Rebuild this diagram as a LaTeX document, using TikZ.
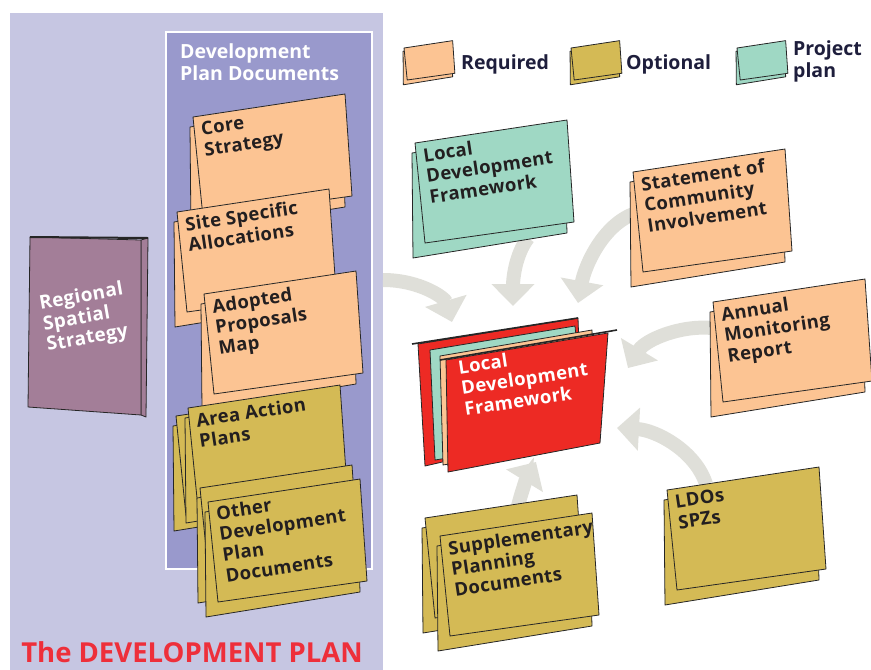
\documentclass[tikz,border=0pt]{standalone}
\usepackage{fontspec}
\setmainfont{Open Sans}
\newfontfamily\cardfont[LetterSpace=2]{Open Sans}
\usetikzlibrary{arrows.meta}
\definecolor{panelblue}{HTML}{C6C6E2}
\definecolor{innerblue}{HTML}{9999CC}
\definecolor{required}{HTML}{FCC493}
\definecolor{optional}{HTML}{D4BA55}
\definecolor{projplan}{HTML}{9FD8C4}
\definecolor{regional}{HTML}{A37E98}
\definecolor{ldfred}{HTML}{ED2A24}
\definecolor{arrowgrey}{HTML}{DFDFD9}
\definecolor{cardink}{HTML}{231F20}
\definecolor{legendink}{HTML}{1E1E3C}
\definecolor{titlered}{HTML}{EE2F3A}
\newcommand{\tentcard}[3][1]{%
\begin{scope}[shift={(#2)},scale=#1]
\filldraw[fill=#3, CardLine] (-3,10) -- (149,-13) -- (152,90) -- (-2,115) -- cycle;
\filldraw[fill=#3, CardLine] (0,0) -- (152,-23) -- (159,79) -- (10,100) -- cycle;
\end{scope}}

\begin{document}
\begin{tikzpicture}[x=1pt,y=-1pt]
\tikzstyle{CardLine}=[draw=black!85, line width=0.8pt, line join=round]
\tikzstyle{CardText}=[anchor=north west, inner sep=0pt, rotate=8.6, align=left,
text=cardink, font=\cardfont\bfseries\fontsize{18.5}{21}\selectfont]
\tikzstyle{LegendText}=[inner sep=0pt, align=left, text=legendink,
font=\bfseries\fontsize{19.5}{22}\selectfont]
\tikzstyle{BigArrow}=[draw=arrowgrey, line width=14pt, -{Triangle[length=22pt,width=42pt]}]
\useasboundingbox (0,0) rectangle (871,670);
\fill[panelblue] (10,13) rectangle (383,670);
\filldraw[fill=innerblue, draw=white, line width=1.2pt] (166,32) rectangle (372,569);
\node[anchor=north west, inner sep=0pt, align=left, text=white,
font=\bfseries\fontsize{19.5}{22}\selectfont] (dpdhead) at (180,43) {Development\\Plan Documents};
\node[inner sep=0pt, text=titlered, font=\bfseries\fontsize{27.5}{30}\selectfont]
(devplan) at (192,652) {The DEVELOPMENT PLAN};
\coordinate (rss-out) at (383,280);
\coordinate (ldf-in1) at (452,322);
\coordinate (lpp-out) at (528,238);
\coordinate (ldf-in2) at (513,306);
\coordinate (sci-out) at (640,212);
\coordinate (ldf-in3) at (578,303);
\coordinate (amr-out) at (712,328);
\coordinate (ldf-in4) at (628,368);
\coordinate (ldo-out) at (706,484);
\coordinate (ldf-in5) at (617,428);
\coordinate (spd-out) at (518,506);
\coordinate (ldf-in6) at (536,462);
\draw[BigArrow] (rss-out) .. controls (420,280) and (445,298) .. (ldf-in1);
\draw[BigArrow] (lpp-out) .. controls (515,255) and (513,280) .. (ldf-in2);
\draw[BigArrow] (sci-out) .. controls (605,220) and (585,265) .. (ldf-in3);
\draw[BigArrow] (amr-out) .. controls (680,325) and (645,340) .. (ldf-in4);
\draw[BigArrow] (ldo-out) .. controls (695,450) and (655,430) .. (ldf-in5);
\draw[BigArrow] (spd-out) .. controls (522,490) and (528,475) .. (ldf-in6);
\filldraw[fill=regional, CardLine] (141,240) -- (148,238) -- (146,417) -- (141,415) -- cycle;
\filldraw[fill=regional, CardLine] (30,237) -- (141,240) -- (141,415) -- (28,407) -- cycle;
\draw[line width=2pt, black!85] (30,237) -- (148,238);
\node[inner sep=0pt, rotate=10, align=left, text=white,
font=\cardfont\bfseries\fontsize{19}{21}\selectfont] (rss) at (85,318) {Regional\\Spatial\\Strategy};
\tentcard{193,117}{required}
\node[CardText] (core) at (200,122) {Core\\Strategy};
\tentcard{177,212}{required}
\node[CardText] (site) at (184,217) {Site Specific\\Allocations};
\tentcard{204,294}{required}
\node[CardText] (adopted) at (211,299) {Adopted\\Proposals\\Map};
\tentcard{176,416}{optional}
\tentcard{188,408}{optional}
\node[CardText] (aap) at (195,413) {Area Action\\Plans};
\tentcard{200,488}{optional}
\tentcard{208,502}{optional}
\node[CardText] (odpd) at (215,506) {Other\\Development\\Plan\\Documents};
\tentcard[0.32]{404,48}{required}
\node[LegendText, anchor=west] (req) at (461,64) {Required};
\tentcard[0.32]{571,48}{optional}
\node[LegendText, anchor=west] (opt) at (626,64) {Optional};
\tentcard[0.32]{737,48}{projplan}
\node[LegendText, anchor=west] (proj) at (793,61) {Project\\plan};
\tentcard{415,143}{projplan}
\node[CardText] (lpp) at (422,148) {Local\\Development\\Framework};
\tentcard{633,172}{required}
\node[CardText] (sci) at (640,177) {Statement of\\Community\\Involvement};
\tentcard{713,302}{required}
\node[CardText] (amr) at (720,307) {Annual\\Monitoring\\Report};
\tentcard{667,490}{optional}
\node[CardText] (ldo) at (674,495) {LDOs\\SPZs};
\tentcard{425,518}{optional}
\tentcard{440,536}{optional}
\node[CardText] (spd) at (447,541) {Supplementary\\Planning\\Documents};
\filldraw[fill=ldfred, CardLine] (418,344) -- (578,318) -- (582,430) -- (425,466) -- cycle;
\filldraw[fill=projplan, CardLine] (430,350) -- (575,326) -- (585,436) -- (435,460) -- cycle;
\filldraw[fill=required, CardLine] (440,356) -- (592,330) -- (596,440) -- (443,465) -- cycle;
\filldraw[fill=ldfred, CardLine] (446,360) -- (608,333) -- (600,443) -- (448,472) -- cycle;
\draw[line width=1.6pt, black!85] (412,344) -- (578,318);
\draw[line width=1.6pt, black!85] (440,360) -- (617,330);
\node[CardText, text=white] (ldf) at (457,360) {Local\\Development\\Framework};
\end{tikzpicture}
\end{document}
